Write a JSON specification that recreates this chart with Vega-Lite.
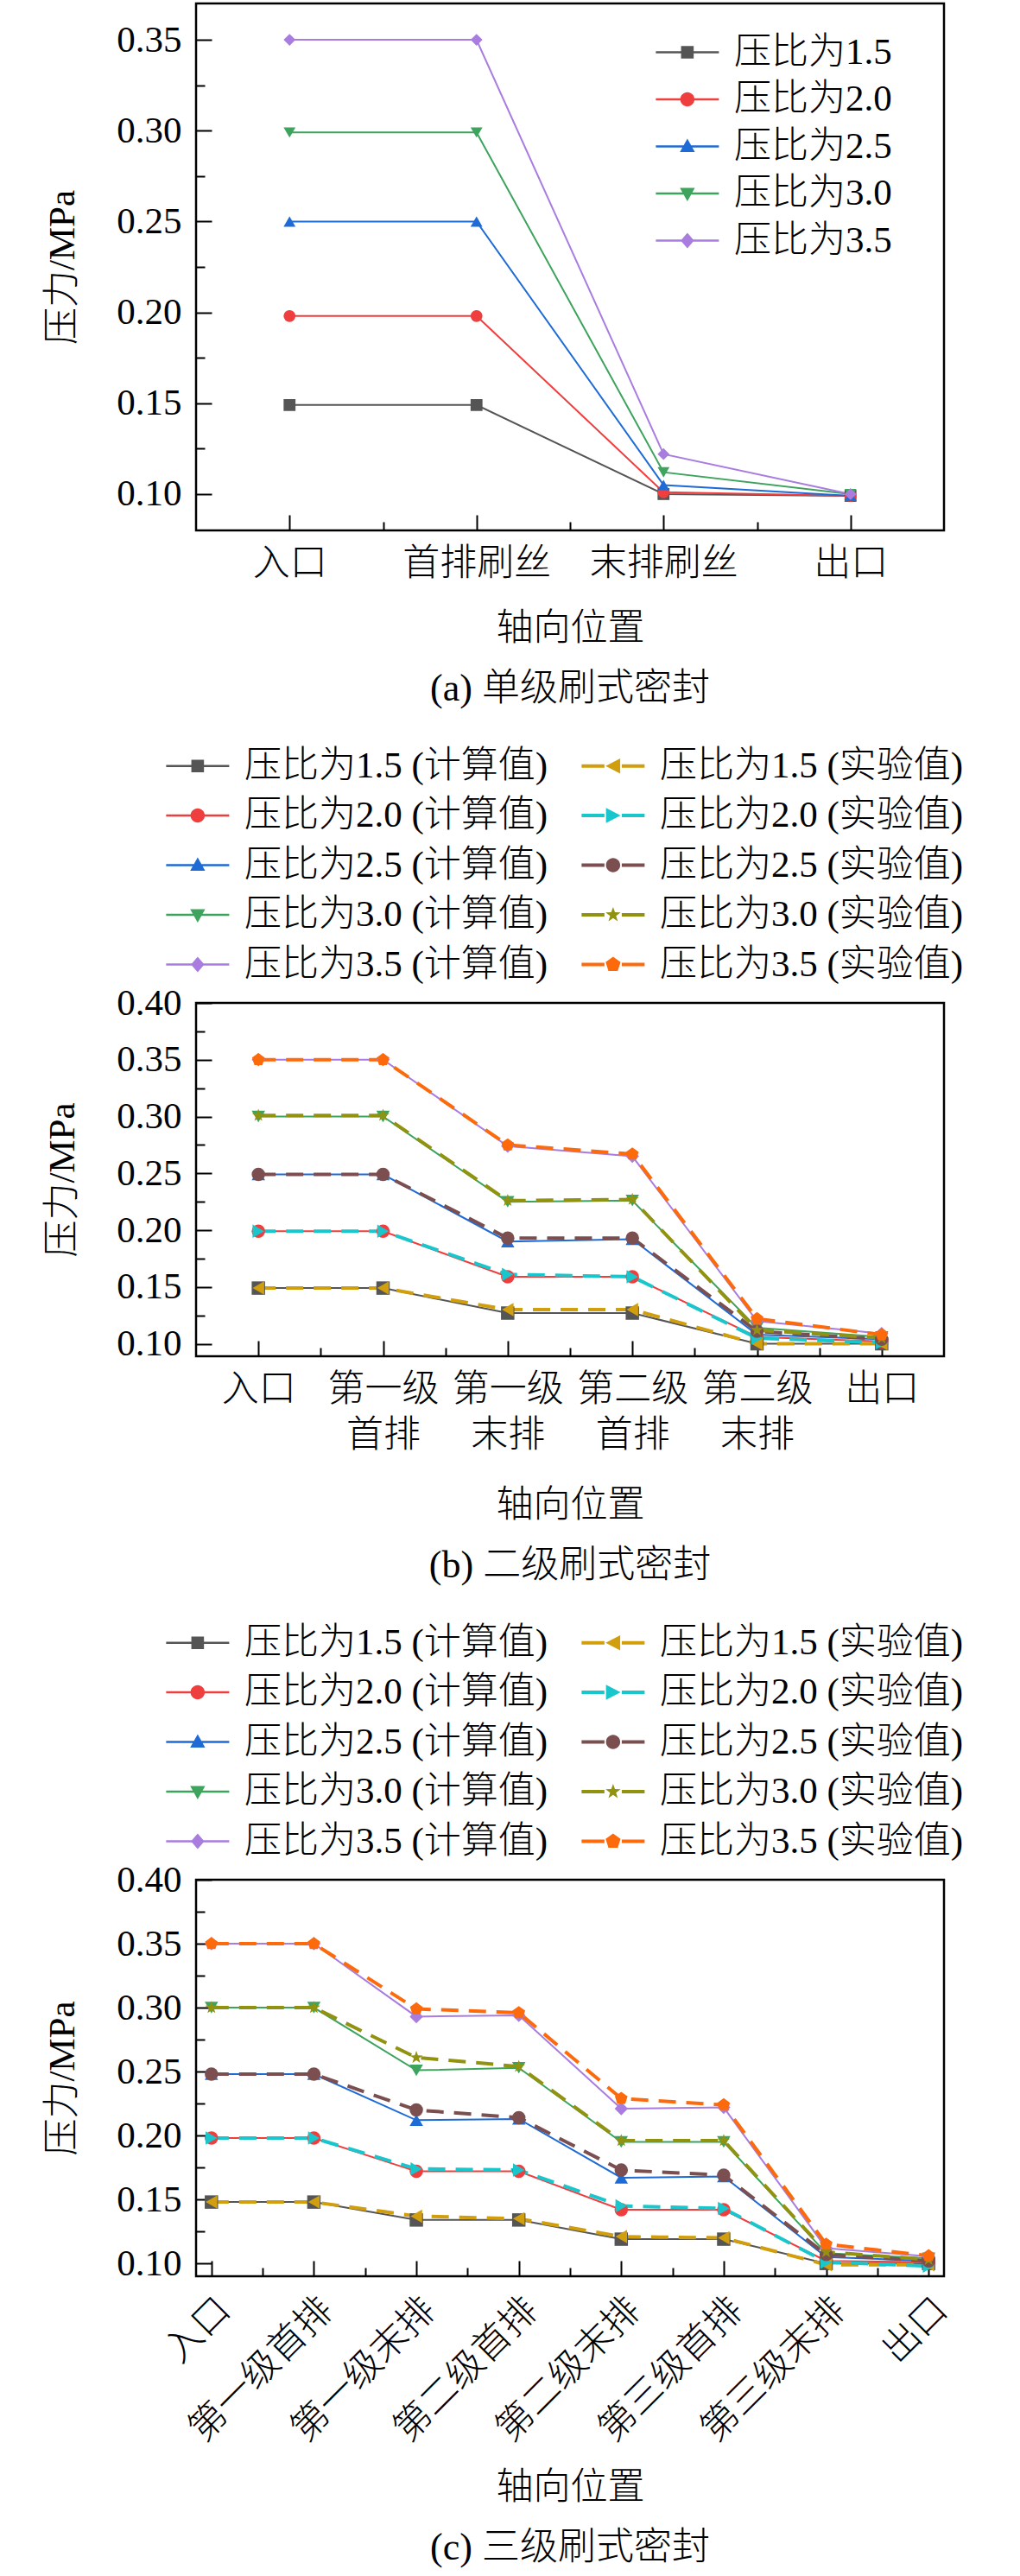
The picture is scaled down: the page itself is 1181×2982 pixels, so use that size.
{
  "$schema": "https://vega.github.io/schema/vega-lite/v6.json",
  "background": "white",
  "padding": {"left": 50, "top": 2, "right": 0, "bottom": 0},
  "spacing": 41,
  "resolve": {"scale": {"color": "independent", "shape": "independent"}, "legend": {"color": "independent", "shape": "independent"}},
  "datasets": {
    "single": [
      {"series": "压比为1.5", "pos": 0, "p": 0.149}, {"series": "压比为1.5", "pos": 1, "p": 0.149}, {"series": "压比为1.5", "pos": 2, "p": 0.100}, {"series": "压比为1.5", "pos": 3, "p": 0.099},
      {"series": "压比为2.0", "pos": 0, "p": 0.198}, {"series": "压比为2.0", "pos": 1, "p": 0.198}, {"series": "压比为2.0", "pos": 2, "p": 0.101}, {"series": "压比为2.0", "pos": 3, "p": 0.099},
      {"series": "压比为2.5", "pos": 0, "p": 0.250}, {"series": "压比为2.5", "pos": 1, "p": 0.250}, {"series": "压比为2.5", "pos": 2, "p": 0.105}, {"series": "压比为2.5", "pos": 3, "p": 0.099},
      {"series": "压比为3.0", "pos": 0, "p": 0.299}, {"series": "压比为3.0", "pos": 1, "p": 0.299}, {"series": "压比为3.0", "pos": 2, "p": 0.112}, {"series": "压比为3.0", "pos": 3, "p": 0.100},
      {"series": "压比为3.5", "pos": 0, "p": 0.350}, {"series": "压比为3.5", "pos": 1, "p": 0.350}, {"series": "压比为3.5", "pos": 2, "p": 0.122}, {"series": "压比为3.5", "pos": 3, "p": 0.100}
    ],
    "double": [
      {"series": "压比为1.5 (计算值)", "kind": "calc", "pos": 0, "p": 0.149}, {"series": "压比为1.5 (计算值)", "kind": "calc", "pos": 1, "p": 0.149}, {"series": "压比为1.5 (计算值)", "kind": "calc", "pos": 2, "p": 0.127}, {"series": "压比为1.5 (计算值)", "kind": "calc", "pos": 3, "p": 0.127}, {"series": "压比为1.5 (计算值)", "kind": "calc", "pos": 4, "p": 0.100}, {"series": "压比为1.5 (计算值)", "kind": "calc", "pos": 5, "p": 0.100},
      {"series": "压比为2.0 (计算值)", "kind": "calc", "pos": 0, "p": 0.199}, {"series": "压比为2.0 (计算值)", "kind": "calc", "pos": 1, "p": 0.199}, {"series": "压比为2.0 (计算值)", "kind": "calc", "pos": 2, "p": 0.159}, {"series": "压比为2.0 (计算值)", "kind": "calc", "pos": 3, "p": 0.159}, {"series": "压比为2.0 (计算值)", "kind": "calc", "pos": 4, "p": 0.106}, {"series": "压比为2.0 (计算值)", "kind": "calc", "pos": 5, "p": 0.102},
      {"series": "压比为2.5 (计算值)", "kind": "calc", "pos": 0, "p": 0.249}, {"series": "压比为2.5 (计算值)", "kind": "calc", "pos": 1, "p": 0.249}, {"series": "压比为2.5 (计算值)", "kind": "calc", "pos": 2, "p": 0.190}, {"series": "压比为2.5 (计算值)", "kind": "calc", "pos": 3, "p": 0.192}, {"series": "压比为2.5 (计算值)", "kind": "calc", "pos": 4, "p": 0.108}, {"series": "压比为2.5 (计算值)", "kind": "calc", "pos": 5, "p": 0.104},
      {"series": "压比为3.0 (计算值)", "kind": "calc", "pos": 0, "p": 0.300}, {"series": "压比为3.0 (计算值)", "kind": "calc", "pos": 1, "p": 0.300}, {"series": "压比为3.0 (计算值)", "kind": "calc", "pos": 2, "p": 0.225}, {"series": "压比为3.0 (计算值)", "kind": "calc", "pos": 3, "p": 0.226}, {"series": "压比为3.0 (计算值)", "kind": "calc", "pos": 4, "p": 0.114}, {"series": "压比为3.0 (计算值)", "kind": "calc", "pos": 5, "p": 0.106},
      {"series": "压比为3.5 (计算值)", "kind": "calc", "pos": 0, "p": 0.350}, {"series": "压比为3.5 (计算值)", "kind": "calc", "pos": 1, "p": 0.350}, {"series": "压比为3.5 (计算值)", "kind": "calc", "pos": 2, "p": 0.274}, {"series": "压比为3.5 (计算值)", "kind": "calc", "pos": 3, "p": 0.265}, {"series": "压比为3.5 (计算值)", "kind": "calc", "pos": 4, "p": 0.120}, {"series": "压比为3.5 (计算值)", "kind": "calc", "pos": 5, "p": 0.109},
      {"series": "压比为1.5 (实验值)", "kind": "exp", "pos": 0, "p": 0.149}, {"series": "压比为1.5 (实验值)", "kind": "exp", "pos": 1, "p": 0.149}, {"series": "压比为1.5 (实验值)", "kind": "exp", "pos": 2, "p": 0.130}, {"series": "压比为1.5 (实验值)", "kind": "exp", "pos": 3, "p": 0.130}, {"series": "压比为1.5 (实验值)", "kind": "exp", "pos": 4, "p": 0.100}, {"series": "压比为1.5 (实验值)", "kind": "exp", "pos": 5, "p": 0.100},
      {"series": "压比为2.0 (实验值)", "kind": "exp", "pos": 0, "p": 0.199}, {"series": "压比为2.0 (实验值)", "kind": "exp", "pos": 1, "p": 0.199}, {"series": "压比为2.0 (实验值)", "kind": "exp", "pos": 2, "p": 0.161}, {"series": "压比为2.0 (实验值)", "kind": "exp", "pos": 3, "p": 0.159}, {"series": "压比为2.0 (实验值)", "kind": "exp", "pos": 4, "p": 0.105}, {"series": "压比为2.0 (实验值)", "kind": "exp", "pos": 5, "p": 0.101},
      {"series": "压比为2.5 (实验值)", "kind": "exp", "pos": 0, "p": 0.249}, {"series": "压比为2.5 (实验值)", "kind": "exp", "pos": 1, "p": 0.249}, {"series": "压比为2.5 (实验值)", "kind": "exp", "pos": 2, "p": 0.193}, {"series": "压比为2.5 (实验值)", "kind": "exp", "pos": 3, "p": 0.193}, {"series": "压比为2.5 (实验值)", "kind": "exp", "pos": 4, "p": 0.111}, {"series": "压比为2.5 (实验值)", "kind": "exp", "pos": 5, "p": 0.104},
      {"series": "压比为3.0 (实验值)", "kind": "exp", "pos": 0, "p": 0.301}, {"series": "压比为3.0 (实验值)", "kind": "exp", "pos": 1, "p": 0.301}, {"series": "压比为3.0 (实验值)", "kind": "exp", "pos": 2, "p": 0.226}, {"series": "压比为3.0 (实验值)", "kind": "exp", "pos": 3, "p": 0.227}, {"series": "压比为3.0 (实验值)", "kind": "exp", "pos": 4, "p": 0.112}, {"series": "压比为3.0 (实验值)", "kind": "exp", "pos": 5, "p": 0.105},
      {"series": "压比为3.5 (实验值)", "kind": "exp", "pos": 0, "p": 0.350}, {"series": "压比为3.5 (实验值)", "kind": "exp", "pos": 1, "p": 0.350}, {"series": "压比为3.5 (实验值)", "kind": "exp", "pos": 2, "p": 0.275}, {"series": "压比为3.5 (实验值)", "kind": "exp", "pos": 3, "p": 0.267}, {"series": "压比为3.5 (实验值)", "kind": "exp", "pos": 4, "p": 0.122}, {"series": "压比为3.5 (实验值)", "kind": "exp", "pos": 5, "p": 0.108}
    ],
    "triple": [
      {"series": "压比为1.5 (计算值)", "kind": "calc", "pos": 0, "p": 0.148}, {"series": "压比为1.5 (计算值)", "kind": "calc", "pos": 1, "p": 0.148}, {"series": "压比为1.5 (计算值)", "kind": "calc", "pos": 2, "p": 0.134}, {"series": "压比为1.5 (计算值)", "kind": "calc", "pos": 3, "p": 0.134}, {"series": "压比为1.5 (计算值)", "kind": "calc", "pos": 4, "p": 0.119}, {"series": "压比为1.5 (计算值)", "kind": "calc", "pos": 5, "p": 0.119}, {"series": "压比为1.5 (计算值)", "kind": "calc", "pos": 6, "p": 0.100}, {"series": "压比为1.5 (计算值)", "kind": "calc", "pos": 7, "p": 0.100},
      {"series": "压比为2.0 (计算值)", "kind": "calc", "pos": 0, "p": 0.198}, {"series": "压比为2.0 (计算值)", "kind": "calc", "pos": 1, "p": 0.198}, {"series": "压比为2.0 (计算值)", "kind": "calc", "pos": 2, "p": 0.172}, {"series": "压比为2.0 (计算值)", "kind": "calc", "pos": 3, "p": 0.172}, {"series": "压比为2.0 (计算值)", "kind": "calc", "pos": 4, "p": 0.142}, {"series": "压比为2.0 (计算值)", "kind": "calc", "pos": 5, "p": 0.142}, {"series": "压比为2.0 (计算值)", "kind": "calc", "pos": 6, "p": 0.102}, {"series": "压比为2.0 (计算值)", "kind": "calc", "pos": 7, "p": 0.101},
      {"series": "压比为2.5 (计算值)", "kind": "calc", "pos": 0, "p": 0.248}, {"series": "压比为2.5 (计算值)", "kind": "calc", "pos": 1, "p": 0.248}, {"series": "压比为2.5 (计算值)", "kind": "calc", "pos": 2, "p": 0.212}, {"series": "压比为2.5 (计算值)", "kind": "calc", "pos": 3, "p": 0.213}, {"series": "压比为2.5 (计算值)", "kind": "calc", "pos": 4, "p": 0.167}, {"series": "压比为2.5 (计算值)", "kind": "calc", "pos": 5, "p": 0.168}, {"series": "压比为2.5 (计算值)", "kind": "calc", "pos": 6, "p": 0.105}, {"series": "压比为2.5 (计算值)", "kind": "calc", "pos": 7, "p": 0.102},
      {"series": "压比为3.0 (计算值)", "kind": "calc", "pos": 0, "p": 0.300}, {"series": "压比为3.0 (计算值)", "kind": "calc", "pos": 1, "p": 0.300}, {"series": "压比为3.0 (计算值)", "kind": "calc", "pos": 2, "p": 0.251}, {"series": "压比为3.0 (计算值)", "kind": "calc", "pos": 3, "p": 0.253}, {"series": "压比为3.0 (计算值)", "kind": "calc", "pos": 4, "p": 0.195}, {"series": "压比为3.0 (计算值)", "kind": "calc", "pos": 5, "p": 0.195}, {"series": "压比为3.0 (计算值)", "kind": "calc", "pos": 6, "p": 0.108}, {"series": "压比为3.0 (计算值)", "kind": "calc", "pos": 7, "p": 0.104},
      {"series": "压比为3.5 (计算值)", "kind": "calc", "pos": 0, "p": 0.350}, {"series": "压比为3.5 (计算值)", "kind": "calc", "pos": 1, "p": 0.350}, {"series": "压比为3.5 (计算值)", "kind": "calc", "pos": 2, "p": 0.293}, {"series": "压比为3.5 (计算值)", "kind": "calc", "pos": 3, "p": 0.294}, {"series": "压比为3.5 (计算值)", "kind": "calc", "pos": 4, "p": 0.221}, {"series": "压比为3.5 (计算值)", "kind": "calc", "pos": 5, "p": 0.222}, {"series": "压比为3.5 (计算值)", "kind": "calc", "pos": 6, "p": 0.112}, {"series": "压比为3.5 (计算值)", "kind": "calc", "pos": 7, "p": 0.1055},
      {"series": "压比为1.5 (实验值)", "kind": "exp", "pos": 0, "p": 0.148}, {"series": "压比为1.5 (实验值)", "kind": "exp", "pos": 1, "p": 0.148}, {"series": "压比为1.5 (实验值)", "kind": "exp", "pos": 2, "p": 0.137}, {"series": "压比为1.5 (实验值)", "kind": "exp", "pos": 3, "p": 0.135}, {"series": "压比为1.5 (实验值)", "kind": "exp", "pos": 4, "p": 0.121}, {"series": "压比为1.5 (实验值)", "kind": "exp", "pos": 5, "p": 0.120}, {"series": "压比为1.5 (实验值)", "kind": "exp", "pos": 6, "p": 0.099}, {"series": "压比为1.5 (实验值)", "kind": "exp", "pos": 7, "p": 0.099},
      {"series": "压比为2.0 (实验值)", "kind": "exp", "pos": 0, "p": 0.198}, {"series": "压比为2.0 (实验值)", "kind": "exp", "pos": 1, "p": 0.198}, {"series": "压比为2.0 (实验值)", "kind": "exp", "pos": 2, "p": 0.174}, {"series": "压比为2.0 (实验值)", "kind": "exp", "pos": 3, "p": 0.173}, {"series": "压比为2.0 (实验值)", "kind": "exp", "pos": 4, "p": 0.145}, {"series": "压比为2.0 (实验值)", "kind": "exp", "pos": 5, "p": 0.143}, {"series": "压比为2.0 (实验值)", "kind": "exp", "pos": 6, "p": 0.101}, {"series": "压比为2.0 (实验值)", "kind": "exp", "pos": 7, "p": 0.098},
      {"series": "压比为2.5 (实验值)", "kind": "exp", "pos": 0, "p": 0.248}, {"series": "压比为2.5 (实验值)", "kind": "exp", "pos": 1, "p": 0.248}, {"series": "压比为2.5 (实验值)", "kind": "exp", "pos": 2, "p": 0.220}, {"series": "压比为2.5 (实验值)", "kind": "exp", "pos": 3, "p": 0.214}, {"series": "压比为2.5 (实验值)", "kind": "exp", "pos": 4, "p": 0.173}, {"series": "压比为2.5 (实验值)", "kind": "exp", "pos": 5, "p": 0.169}, {"series": "压比为2.5 (实验值)", "kind": "exp", "pos": 6, "p": 0.107}, {"series": "压比为2.5 (实验值)", "kind": "exp", "pos": 7, "p": 0.102},
      {"series": "压比为3.0 (实验值)", "kind": "exp", "pos": 0, "p": 0.300}, {"series": "压比为3.0 (实验值)", "kind": "exp", "pos": 1, "p": 0.300}, {"series": "压比为3.0 (实验值)", "kind": "exp", "pos": 2, "p": 0.261}, {"series": "压比为3.0 (实验值)", "kind": "exp", "pos": 3, "p": 0.254}, {"series": "压比为3.0 (实验值)", "kind": "exp", "pos": 4, "p": 0.196}, {"series": "压比为3.0 (实验值)", "kind": "exp", "pos": 5, "p": 0.196}, {"series": "压比为3.0 (实验值)", "kind": "exp", "pos": 6, "p": 0.109}, {"series": "压比为3.0 (实验值)", "kind": "exp", "pos": 7, "p": 0.103},
      {"series": "压比为3.5 (实验值)", "kind": "exp", "pos": 0, "p": 0.350}, {"series": "压比为3.5 (实验值)", "kind": "exp", "pos": 1, "p": 0.350}, {"series": "压比为3.5 (实验值)", "kind": "exp", "pos": 2, "p": 0.299}, {"series": "压比为3.5 (实验值)", "kind": "exp", "pos": 3, "p": 0.296}, {"series": "压比为3.5 (实验值)", "kind": "exp", "pos": 4, "p": 0.229}, {"series": "压比为3.5 (实验值)", "kind": "exp", "pos": 5, "p": 0.224}, {"series": "压比为3.5 (实验值)", "kind": "exp", "pos": 6, "p": 0.115}, {"series": "压比为3.5 (实验值)", "kind": "exp", "pos": 7, "p": 0.106}
    ]
  },
  "config": {
    "font": "Liberation Serif, Noto Sans CJK SC, serif",
    "view": {"stroke": "black", "strokeWidth": 2.5},
    "axis": {
      "domain": false, "grid": false, "tickColor": "black", "tickWidth": 2,
      "labelColor": "black", "labelFontSize": 43, "labelFont": "Liberation Serif, Noto Sans CJK SC, serif", "labelLimit": 1000, "labelFontWeight": 300,
      "titleColor": "black", "titleFontSize": 43, "titleFontWeight": 300, "titleFont": "Liberation Serif, Noto Sans CJK SC, serif",
      "labelOverlap": false, "labelFlush": false, "labelBound": false
    },
    "legend": {
      "title": null, "padding": 0, "labelFontSize": 43, "labelColor": "black", "labelFontWeight": 300,
      "labelFont": "Liberation Serif, Noto Sans CJK SC, serif",
      "labelLimit": 1000, "symbolSize": 333, "symbolStrokeWidth": 0, "labelOffset": 60
    },
    "title": {"fontSize": 44, "fontWeight": 300, "color": "black", "font": "Liberation Serif, Noto Sans CJK SC, serif"}
  },
  "vconcat": [
    {
      "width": 866, "height": 610,
      "data": {"name": "single"},
      "title": {"text": "(a) 单级刷式密封", "orient": "bottom", "anchor": "middle", "frame": "group", "offset": 27},
      "resolve": {"scale": {"shape": "independent"}, "legend": {"color": "independent", "shape": "independent"}},
      "encoding": {
        "x": {"field": "pos", "type": "quantitative", "scale": {"domain": [-0.5, 3.5], "nice": false, "zero": false},
          "axis": {"title": "轴向位置", "values": [0, 0.5, 1, 1.5, 2, 2.5, 3],
            "labelExpr": "datum.value % 1 == 0 ? ['入口', '首排刷丝', '末排刷丝', '出口'][datum.value] : ''",
            "tickSize": {"condition": {"test": "datum.value % 1 == 0", "value": -18}, "value": -10},
            "labelPadding": 35, "titlePadding": 24}},
        "y": {"field": "p", "type": "quantitative", "scale": {"domain": [0.08, 0.37], "nice": false, "zero": false},
          "axis": {"title": "压力/MPa", "values": [0.1, 0.125, 0.15, 0.175, 0.2, 0.225, 0.25, 0.275, 0.3, 0.325, 0.35],
            "labelExpr": "round(datum.value * 1000) % 50 == 0 ? format(datum.value, '.2f') : ''",
            "tickSize": {"condition": {"test": "round(datum.value * 1000) % 50 == 0", "value": -18}, "value": -10},
            "labelPadding": 35, "titlePadding": 40}}
      },
      "layer": [
        {
          "mark": {"type": "line", "strokeWidth": 2},
          "encoding": {
            "color": {"field": "series", "type": "nominal", "legend": null,
              "scale": {"domain": ["压比为1.5", "压比为2.0", "压比为2.5", "压比为3.0", "压比为3.5"], "range": ["#555555", "#ef3e3e", "#1f6bd6", "#3da35d", "#a97de0"]}}
          }
        },
        {
          "mark": {"type": "point", "filled": true, "opacity": 1, "size": 190},
          "encoding": {
            "color": {"field": "series", "type": "nominal", "legend": null},
            "shape": {"field": "series", "type": "nominal", "legend": null,
              "scale": {"domain": ["压比为1.5", "压比为2.0", "压比为2.5", "压比为3.0", "压比为3.5"], "range": ["square", "circle", "triangle-up", "triangle-down", "diamond"]}}
          }
        },
        {
          "transform": [{"filter": "false"}],
          "mark": {"type": "point", "filled": true, "opacity": 1},
          "encoding": {
            "color": {"field": "series", "type": "nominal",
              "legend": {"orient": "none", "legendX": 520, "legendY": 35, "rowPadding": 10.5}},
            "shape": {"field": "series", "type": "nominal",
              "scale": {"domain": ["压比为1.5", "压比为2.0", "压比为2.5", "压比为3.0", "压比为3.5"],
                "range": [
                  "M-1,-0.14H7V0.14H-1ZM2.2,-0.8H3.8V0.8H2.2Z",
                  "M-1,-0.14H7V0.14H-1ZM2.1,0A0.9,0.9 0 1,1 3.9,0A0.9,0.9 0 1,1 2.1,0Z",
                  "M-1,-0.14H7V0.14H-1ZM3,-1L3.95,0.7H2.05Z",
                  "M-1,-0.14H7V0.14H-1ZM2.05,-0.7H3.95L3,1Z",
                  "M-1,-0.14H7V0.14H-1ZM3,-1L3.85,0L3,1L2.15,0Z"
                ]},
              "legend": {"orient": "none", "legendX": 520, "legendY": 35, "rowPadding": 10.5}}
          }
        }
      ]
    },
    {
      "width": 866, "height": 409,
      "data": {"name": "double"},
      "title": {"text": "(b) 二级刷式密封", "orient": "bottom", "anchor": "middle", "frame": "group", "offset": 27},
      "resolve": {"scale": {"shape": "independent"}, "legend": {"color": "independent", "shape": "independent"}},
      "encoding": {
        "x": {"field": "pos", "type": "quantitative", "scale": {"domain": [-0.5, 5.5], "nice": false, "zero": false},
          "axis": {"title": "轴向位置", "values": [0, 0.5, 1, 1.5, 2, 2.5, 3, 3.5, 4, 4.5, 5],
            "labelExpr": "datum.value % 1 == 0 ? [['入口'], ['第一级', '首排'], ['第一级', '末排'], ['第二级', '首排'], ['第二级', '末排'], ['出口']][datum.value] : ''",
            "labelLineHeight": 53,
            "tickSize": {"condition": {"test": "datum.value % 1 == 0", "value": -18}, "value": -10},
            "labelPadding": 35, "titlePadding": 38}},
        "y": {"field": "p", "type": "quantitative", "scale": {"domain": [0.089, 0.4], "nice": false, "zero": false},
          "axis": {"title": "压力/MPa", "values": [0.1, 0.125, 0.15, 0.175, 0.2, 0.225, 0.25, 0.275, 0.3, 0.325, 0.35, 0.375, 0.4],
            "labelExpr": "round(datum.value * 1000) % 50 == 0 ? format(datum.value, '.2f') : ''",
            "tickSize": {"condition": {"test": "round(datum.value * 1000) % 50 == 0", "value": -18}, "value": -10},
            "labelPadding": 35, "titlePadding": 40}}
      },
      "layer": [
        {
          "transform": [{"filter": "datum.kind == 'calc'"}],
          "mark": {"type": "line", "strokeWidth": 2},
          "encoding": {
            "color": {"field": "series", "type": "nominal", "legend": null,
              "scale": {"domain": ["压比为1.5 (计算值)", "压比为2.0 (计算值)", "压比为2.5 (计算值)", "压比为3.0 (计算值)", "压比为3.5 (计算值)", "压比为1.5 (实验值)", "压比为2.0 (实验值)", "压比为2.5 (实验值)", "压比为3.0 (实验值)", "压比为3.5 (实验值)"],
                "range": ["#555555", "#ef3e3e", "#1f6bd6", "#3da35d", "#a97de0", "#d19e0e", "#18c6cc", "#7b4f4f", "#929211", "#fd6a0b"]}}
          }
        },
        {
          "transform": [{"filter": "datum.kind == 'exp'"}],
          "mark": {"type": "line", "strokeWidth": 4, "strokeDash": [20, 12]},
          "encoding": {"color": {"field": "series", "type": "nominal", "legend": null}}
        },
        {
          "mark": {"type": "point", "filled": true, "opacity": 1, "size": 240},
          "encoding": {
            "color": {"field": "series", "type": "nominal", "legend": null},
            "shape": {"field": "series", "type": "nominal", "legend": null,
              "scale": {"domain": ["压比为1.5 (计算值)", "压比为2.0 (计算值)", "压比为2.5 (计算值)", "压比为3.0 (计算值)", "压比为3.5 (计算值)", "压比为1.5 (实验值)", "压比为2.0 (实验值)", "压比为2.5 (实验值)", "压比为3.0 (实验值)", "压比为3.5 (实验值)"],
                "range": ["square", "circle", "triangle-up", "triangle-down", "diamond", "triangle-left", "triangle-right", "circle",
                  "M0,-1L0.235,-0.324L0.951,-0.309L0.38,0.124L0.588,0.809L0,0.4L-0.588,0.809L-0.38,0.124L-0.951,-0.309L-0.235,-0.324Z",
                  "M0,-1L0.951,-0.309L0.588,0.809L-0.588,0.809L-0.951,-0.309Z"]}}
          }
        },
        {
          "transform": [{"filter": "false"}],
          "mark": {"type": "point", "filled": true, "opacity": 1},
          "encoding": {
            "color": {"field": "series", "type": "nominal",
              "legend": {"orient": "none", "legendX": -47, "legendY": -296, "columns": 2, "columnPadding": 26, "rowPadding": 13.5}},
            "shape": {"field": "series", "type": "nominal",
              "scale": {"domain": ["压比为1.5 (计算值)", "压比为2.0 (计算值)", "压比为2.5 (计算值)", "压比为3.0 (计算值)", "压比为3.5 (计算值)", "压比为1.5 (实验值)", "压比为2.0 (实验值)", "压比为2.5 (实验值)", "压比为3.0 (实验值)", "压比为3.5 (实验值)"],
                "range": [
                  "M-1,-0.14H7V0.14H-1ZM2.2,-0.8H3.8V0.8H2.2Z",
                  "M-1,-0.14H7V0.14H-1ZM2.1,0A0.9,0.9 0 1,1 3.9,0A0.9,0.9 0 1,1 2.1,0Z",
                  "M-1,-0.14H7V0.14H-1ZM3,-1L3.95,0.7H2.05Z",
                  "M-1,-0.14H7V0.14H-1ZM2.05,-0.7H3.95L3,1Z",
                  "M-1,-0.14H7V0.14H-1ZM3,-1L3.85,0L3,1L2.15,0Z",
                  "M-1,-0.22H1.9V0.22H-1ZM4.1,-0.22H7V0.22H4.1ZM2.05,0L3.9,-0.95V0.95Z",
                  "M-1,-0.22H1.9V0.22H-1ZM4.1,-0.22H7V0.22H4.1ZM3.95,0L2.1,0.95V-0.95Z",
                  "M-1,-0.22H1.9V0.22H-1ZM4.1,-0.22H7V0.22H4.1ZM2.1,0A0.9,0.9 0 1,1 3.9,0A0.9,0.9 0 1,1 2.1,0Z",
                  "M-1,-0.22H1.9V0.22H-1ZM4.1,-0.22H7V0.22H4.1ZM3,-1L3.235,-0.324L3.951,-0.309L3.38,0.124L3.588,0.809L3,0.4L2.412,0.809L2.62,0.124L2.049,-0.309L2.765,-0.324Z",
                  "M-1,-0.22H1.9V0.22H-1ZM4.1,-0.22H7V0.22H4.1ZM3,-1L3.951,-0.309L3.588,0.809L2.412,0.809L2.049,-0.309Z"
                ]},
              "legend": {"orient": "none", "legendX": -47, "legendY": -296, "columns": 2, "columnPadding": 26, "rowPadding": 13.5}}
          }
        }
      ]
    },
    {
      "width": 866, "height": 459,
      "data": {"name": "triple"},
      "title": {"text": "(c) 三级刷式密封", "orient": "bottom", "anchor": "middle", "frame": "group", "offset": 27},
      "resolve": {"scale": {"shape": "independent"}, "legend": {"color": "independent", "shape": "independent"}},
      "encoding": {
        "x": {"field": "pos", "type": "quantitative", "scale": {"domain": [-0.15, 7.15], "nice": false, "zero": false},
          "axis": {"title": "轴向位置", "values": [0, 0.5, 1, 1.5, 2, 2.5, 3, 3.5, 4, 4.5, 5, 5.5, 6, 6.5, 7],
            "labelExpr": "datum.value % 1 == 0 ? ['入口', '第一级首排', '第一级末排', '第二级首排', '第二级末排', '第三级首排', '第三级末排', '出口'][datum.value] : ''",
            "labelAngle": -45, "labelAlign": "right", "labelBaseline": "top",
            "tickSize": {"condition": {"test": "datum.value % 1 == 0", "value": -18}, "value": -10},
            "labelPadding": 35, "titlePadding": 24}},
        "y": {"field": "p", "type": "quantitative", "scale": {"domain": [0.09, 0.4], "nice": false, "zero": false},
          "axis": {"title": "压力/MPa", "values": [0.1, 0.125, 0.15, 0.175, 0.2, 0.225, 0.25, 0.275, 0.3, 0.325, 0.35, 0.375, 0.4],
            "labelExpr": "round(datum.value * 1000) % 50 == 0 ? format(datum.value, '.2f') : ''",
            "tickSize": {"condition": {"test": "round(datum.value * 1000) % 50 == 0", "value": -18}, "value": -10},
            "labelPadding": 35, "titlePadding": 40}}
      },
      "layer": [
        {
          "transform": [{"filter": "datum.kind == 'calc'"}],
          "mark": {"type": "line", "strokeWidth": 2},
          "encoding": {
            "color": {"field": "series", "type": "nominal", "legend": null,
              "scale": {"domain": ["压比为1.5 (计算值)", "压比为2.0 (计算值)", "压比为2.5 (计算值)", "压比为3.0 (计算值)", "压比为3.5 (计算值)", "压比为1.5 (实验值)", "压比为2.0 (实验值)", "压比为2.5 (实验值)", "压比为3.0 (实验值)", "压比为3.5 (实验值)"],
                "range": ["#555555", "#ef3e3e", "#1f6bd6", "#3da35d", "#a97de0", "#d19e0e", "#18c6cc", "#7b4f4f", "#929211", "#fd6a0b"]}}
          }
        },
        {
          "transform": [{"filter": "datum.kind == 'exp'"}],
          "mark": {"type": "line", "strokeWidth": 4, "strokeDash": [20, 12]},
          "encoding": {"color": {"field": "series", "type": "nominal", "legend": null}}
        },
        {
          "mark": {"type": "point", "filled": true, "opacity": 1, "size": 240},
          "encoding": {
            "color": {"field": "series", "type": "nominal", "legend": null},
            "shape": {"field": "series", "type": "nominal", "legend": null,
              "scale": {"domain": ["压比为1.5 (计算值)", "压比为2.0 (计算值)", "压比为2.5 (计算值)", "压比为3.0 (计算值)", "压比为3.5 (计算值)", "压比为1.5 (实验值)", "压比为2.0 (实验值)", "压比为2.5 (实验值)", "压比为3.0 (实验值)", "压比为3.5 (实验值)"],
                "range": ["square", "circle", "triangle-up", "triangle-down", "diamond", "triangle-left", "triangle-right", "circle",
                  "M0,-1L0.235,-0.324L0.951,-0.309L0.38,0.124L0.588,0.809L0,0.4L-0.588,0.809L-0.38,0.124L-0.951,-0.309L-0.235,-0.324Z",
                  "M0,-1L0.951,-0.309L0.588,0.809L-0.588,0.809L-0.951,-0.309Z"]}}
          }
        },
        {
          "transform": [{"filter": "false"}],
          "mark": {"type": "point", "filled": true, "opacity": 1},
          "encoding": {
            "color": {"field": "series", "type": "nominal",
              "legend": {"orient": "none", "legendX": -47, "legendY": -296, "columns": 2, "columnPadding": 26, "rowPadding": 13.5}},
            "shape": {"field": "series", "type": "nominal",
              "scale": {"domain": ["压比为1.5 (计算值)", "压比为2.0 (计算值)", "压比为2.5 (计算值)", "压比为3.0 (计算值)", "压比为3.5 (计算值)", "压比为1.5 (实验值)", "压比为2.0 (实验值)", "压比为2.5 (实验值)", "压比为3.0 (实验值)", "压比为3.5 (实验值)"],
                "range": [
                  "M-1,-0.14H7V0.14H-1ZM2.2,-0.8H3.8V0.8H2.2Z",
                  "M-1,-0.14H7V0.14H-1ZM2.1,0A0.9,0.9 0 1,1 3.9,0A0.9,0.9 0 1,1 2.1,0Z",
                  "M-1,-0.14H7V0.14H-1ZM3,-1L3.95,0.7H2.05Z",
                  "M-1,-0.14H7V0.14H-1ZM2.05,-0.7H3.95L3,1Z",
                  "M-1,-0.14H7V0.14H-1ZM3,-1L3.85,0L3,1L2.15,0Z",
                  "M-1,-0.22H1.9V0.22H-1ZM4.1,-0.22H7V0.22H4.1ZM2.05,0L3.9,-0.95V0.95Z",
                  "M-1,-0.22H1.9V0.22H-1ZM4.1,-0.22H7V0.22H4.1ZM3.95,0L2.1,0.95V-0.95Z",
                  "M-1,-0.22H1.9V0.22H-1ZM4.1,-0.22H7V0.22H4.1ZM2.1,0A0.9,0.9 0 1,1 3.9,0A0.9,0.9 0 1,1 2.1,0Z",
                  "M-1,-0.22H1.9V0.22H-1ZM4.1,-0.22H7V0.22H4.1ZM3,-1L3.235,-0.324L3.951,-0.309L3.38,0.124L3.588,0.809L3,0.4L2.412,0.809L2.62,0.124L2.049,-0.309L2.765,-0.324Z",
                  "M-1,-0.22H1.9V0.22H-1ZM4.1,-0.22H7V0.22H4.1ZM3,-1L3.951,-0.309L3.588,0.809L2.412,0.809L2.049,-0.309Z"
                ]},
              "legend": {"orient": "none", "legendX": -47, "legendY": -296, "columns": 2, "columnPadding": 26, "rowPadding": 13.5}}
          }
        }
      ]
    }
  ]
}
